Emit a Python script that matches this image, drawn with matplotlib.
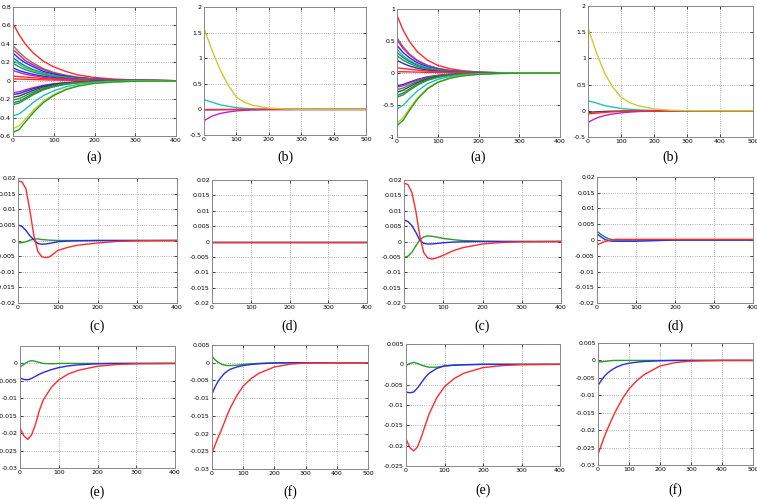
import numpy as np
import matplotlib.pyplot as plt
from matplotlib.ticker import FuncFormatter

plt.rcParams['axes.unicode_minus'] = False

# ---- colours (old matlab order) ----
R, G, B = '#ff2a2a', '#2a9a2a', '#2a2ae6'
C, M, Y, K = '#20c0c0', '#c020c0', '#c8cc30', '#404040'
OL, TL = '#9a7a30', '#208080'

# ---- panel (a), left: state errors ----
xa = [0, 15, 30, 50, 75, 100, 130, 160, 200, 250, 300, 400]
a1_curves = [
    (R, [0.62, 0.50, 0.40, 0.30, 0.21, 0.15, 0.10, 0.062, 0.035, 0.017, 0.009, 0]),
    (OL, [0.38, 0.31, 0.25, 0.19, 0.13, 0.09, 0.06, 0.038, 0.022, 0.011, 0.005, 0]),
    (M, [0.34, 0.28, 0.22, 0.17, 0.12, 0.08, 0.054, 0.034, 0.019, 0.01, 0.005, 0]),
    (B, [0.30, 0.24, 0.195, 0.15, 0.10, 0.072, 0.048, 0.03, 0.017, 0.008, 0.004, 0]),
    (TL, [0.25, 0.20, 0.16, 0.12, 0.085, 0.06, 0.04, 0.025, 0.014, 0.007, 0.003, 0]),
    (C, [0.22, 0.18, 0.14, 0.11, 0.075, 0.053, 0.035, 0.022, 0.013, 0.006, 0.003, 0]),
    (G, [0.19, 0.15, 0.12, 0.093, 0.065, 0.046, 0.03, 0.019, 0.011, 0.005, 0.003, 0]),
    (B, [0.14, 0.11, 0.09, 0.069, 0.048, 0.034, 0.022, 0.014, 0.008, 0.004, 0.002, 0]),
    (M, [0.11, 0.09, 0.07, 0.054, 0.037, 0.026, 0.018, 0.011, 0.006, 0.003, 0.002, 0]),
    (R, [0.05, 0.045, 0.04, 0.032, 0.024, 0.017, 0.011, 0.007, 0.004, 0.002, 0.001, 0]),
    (R, [0.02, 0.018, 0.016, 0.013, 0.01, 0.007, 0.005, 0.003, 0.002, 0.001, 0, 0]),
    (M, [-0.13, -0.12, -0.10, -0.075, -0.05, -0.033, -0.02, -0.012, -0.006, -0.003, -0.001, 0]),
    (B, [-0.15, -0.14, -0.117, -0.087, -0.057, -0.038, -0.023, -0.014, -0.007, -0.003, -0.002, 0]),
    (K, [-0.18, -0.167, -0.14, -0.104, -0.068, -0.045, -0.027, -0.016, -0.008, -0.004, -0.002, 0]),
    (G, [-0.21, -0.195, -0.164, -0.122, -0.08, -0.053, -0.032, -0.019, -0.009, -0.004, -0.002, 0]),
    (TL, [-0.24, -0.223, -0.187, -0.139, -0.091, -0.06, -0.036, -0.022, -0.011, -0.005, -0.002, 0]),
    (G, [-0.26, -0.242, -0.203, -0.151, -0.099, -0.065, -0.039, -0.023, -0.012, -0.005, -0.003, 0]),
    (C, [-0.38, -0.36, -0.31, -0.235, -0.16, -0.11, -0.066, -0.04, -0.02, -0.009, -0.004, 0]),
    (Y, [-0.52, -0.49, -0.42, -0.32, -0.22, -0.15, -0.09, -0.054, -0.027, -0.012, -0.005, 0]),
    (G, [-0.56, -0.53, -0.45, -0.345, -0.235, -0.16, -0.097, -0.058, -0.029, -0.013, -0.006, 0]),
]

# ---- panel (a), right ----
a2_curves = [
    (R, [0.90, 0.67, 0.50, 0.33, 0.20, 0.12, 0.067, 0.037, 0.016, 0.006, 0.002, 0]),
    (OL, [0.55, 0.41, 0.30, 0.20, 0.12, 0.074, 0.041, 0.023, 0.01, 0.004, 0.001, 0]),
    (M, [0.52, 0.385, 0.286, 0.19, 0.114, 0.07, 0.038, 0.021, 0.009, 0.004, 0.001, 0]),
    (B, [0.43, 0.32, 0.24, 0.16, 0.095, 0.058, 0.032, 0.018, 0.008, 0.003, 0.001, 0]),
    (C, [0.37, 0.27, 0.20, 0.137, 0.081, 0.05, 0.027, 0.015, 0.007, 0.003, 0.001, 0]),
    (TL, [0.32, 0.24, 0.18, 0.12, 0.07, 0.043, 0.024, 0.013, 0.006, 0.002, 0.001, 0]),
    (G, [0.27, 0.20, 0.15, 0.10, 0.06, 0.036, 0.02, 0.011, 0.005, 0.002, 0.001, 0]),
    (B, [0.20, 0.15, 0.11, 0.074, 0.044, 0.027, 0.015, 0.008, 0.004, 0.001, 0, 0]),
    (R, [0.08, 0.07, 0.06, 0.045, 0.03, 0.019, 0.011, 0.006, 0.003, 0.001, 0, 0]),
    (R, [0.02, 0.019, 0.017, 0.014, 0.01, 0.007, 0.004, 0.002, 0.001, 0, 0, 0]),
    (B, [-0.20, -0.18, -0.144, -0.10, -0.06, -0.036, -0.02, -0.011, -0.005, -0.002, -0.001, 0]),
    (M, [-0.22, -0.198, -0.158, -0.11, -0.066, -0.04, -0.022, -0.012, -0.006, -0.002, -0.001, 0]),
    (G, [-0.26, -0.234, -0.187, -0.13, -0.078, -0.047, -0.026, -0.014, -0.007, -0.003, -0.001, 0]),
    (K, [-0.30, -0.27, -0.216, -0.15, -0.09, -0.054, -0.03, -0.017, -0.008, -0.003, -0.001, 0]),
    (TL, [-0.35, -0.315, -0.252, -0.175, -0.105, -0.063, -0.035, -0.019, -0.009, -0.004, -0.001, 0]),
    (G, [-0.38, -0.342, -0.274, -0.19, -0.114, -0.068, -0.038, -0.021, -0.01, -0.004, -0.002, 0]),
    (C, [-0.56, -0.504, -0.403, -0.28, -0.168, -0.10, -0.056, -0.031, -0.014, -0.006, -0.002, 0]),
    (Y, [-0.78, -0.70, -0.56, -0.39, -0.234, -0.14, -0.078, -0.043, -0.02, -0.008, -0.003, 0]),
    (G, [-0.82, -0.74, -0.59, -0.41, -0.246, -0.148, -0.082, -0.045, -0.021, -0.008, -0.003, 0]),
]

# ---- panel (b) ----
xb = [0, 25, 50, 75, 100, 125, 150, 200, 250, 300, 400, 500]
b1_curves = [
    (B, [-0.01, -0.008, -0.005, -0.003, -0.002, -0.001, 0, 0, 0, 0, 0, 0]),
    (C, [0.19, 0.14, 0.09, 0.06, 0.035, 0.02, 0.012, 0.004, 0.001, 0, 0, 0]),
    (M, [-0.22, -0.13, -0.08, -0.05, -0.03, -0.018, -0.01, -0.003, -0.001, 0, 0, 0]),
    (R, [0, 0, 0, 0, 0, 0, 0, 0, 0, 0, 0, 0]),
    (Y, [1.58, 1.15, 0.77, 0.47, 0.24, 0.14, 0.08, 0.025, 0.008, 0.002, 0, 0]),
]
b2_curves = [
    (K, [-0.03, -0.02, -0.012, -0.007, -0.004, -0.002, -0.001, 0, 0, 0, 0, 0]),
    (C, [0.19, 0.15, 0.10, 0.07, 0.045, 0.03, 0.018, 0.006, 0.002, 0, 0, 0]),
    (M, [-0.22, -0.14, -0.09, -0.06, -0.04, -0.025, -0.015, -0.005, -0.002, 0, 0, 0]),
    (R, [-0.06, -0.045, -0.03, -0.02, -0.012, -0.007, -0.004, -0.001, 0, 0, 0, 0]),
    (Y, [1.58, 1.12, 0.72, 0.45, 0.26, 0.16, 0.10, 0.035, 0.01, 0.003, 0, 0]),
]

# ---- panel (c) / (d) ----
xc = [0, 10, 20, 30, 40, 50, 60, 70, 80, 100, 125, 150, 200, 250, 300, 400]
c1_curves = [
    (G, [-0.0008, -0.0007, -0.0004, 0.0001, 0.0005, 0.0005, 0.0003, 0.0002, 0.0001, 0, 0, 0, 0, 0, 0, 0]),
    (B, [0.005, 0.0045, 0.0032, 0.0015, 0.0002, -0.001, -0.0012, -0.0011, -0.0009, -0.0004, -0.0002, -0.0001, 0, 0, 0, 0]),
    (R, [0.019, 0.0188, 0.0165, 0.0095, 0.0015, -0.0035, -0.0052, -0.0055, -0.0052, -0.0032, -0.0022, -0.0015, -0.0008, -0.0003, -0.0001, 0]),
]
d1_curves = [
    (G, [0] * 16),
    (B, [0] * 16),
    (R, [0] * 16),
]
c2_curves = [
    (G, [-0.0052, -0.0048, -0.0035, -0.0015, 0.0005, 0.0015, 0.0018, 0.0017, 0.0015, 0.001, 0.0006, 0.0003, 0.0001, 0, 0, 0]),
    (B, [0.007, 0.0065, 0.0052, 0.003, 0.0005, -0.0006, -0.0008, -0.0008, -0.0007, -0.0004, -0.0002, -0.0001, 0, 0, 0, 0]),
    (R, [0.019, 0.0185, 0.016, 0.010, 0.002, -0.0035, -0.0053, -0.0057, -0.0055, -0.0045, -0.003, -0.002, -0.0008, -0.0003, -0.0001, 0]),
]
d2_curves = [
    (TL, [0.0028, 0.0018, 0.001, 0.0004, 0.0001, 0, 0, 0, 0, 0, 0, 0, 0, 0, 0, 0]),
    (B, [0.002, 0.001, 0.0002, -0.0002, -0.0004, -0.0004, -0.0004, -0.0004, -0.0004, -0.0004, -0.0003, -0.0002, 0, 0, 0, 0]),
    (R, [-0.0015, -0.001, -0.0005, -0.0002, 0.0001, 0.0002, 0.0002, 0.0002, 0.0002, 0.0002, 0.0002, 0.0002, 0.0002, 0.0002, 0.0002, 0.0002]),
]

# ---- panel (e) / (f) ----
xe = [0, 10, 20, 30, 40, 50, 60, 80, 100, 125, 150, 200, 250, 300, 400]
e1_curves = [
    (G, [-0.001, -0.0003, 0.0005, 0.0008, 0.0006, 0.0003, 0, -0.0001, 0, 0, 0, 0, 0, 0, 0]),
    (B, [-0.0042, -0.0046, -0.0047, -0.0043, -0.0037, -0.0031, -0.0026, -0.0018, -0.0012, -0.0007, -0.0004, -0.0001, 0, 0, 0]),
    (R, [-0.0185, -0.0208, -0.0218, -0.0205, -0.0175, -0.0135, -0.0105, -0.007, -0.0047, -0.003, -0.002, -0.0008, -0.0003, -0.0001, 0]),
]
e2_curves = [
    (G, [-0.0003, 0.0002, 0.0005, 0.0002, -0.0002, -0.0005, -0.0007, -0.0007, -0.0004, -0.0002, -0.0001, 0, 0, 0, 0]),
    (B, [-0.0068, -0.007, -0.0068, -0.0058, -0.0045, -0.0032, -0.0022, -0.001, -0.0004, -0.0002, -0.0001, 0, 0, 0, 0]),
    (R, [-0.0183, -0.0205, -0.0213, -0.0203, -0.0178, -0.015, -0.0122, -0.0082, -0.0055, -0.0035, -0.0022, -0.0008, -0.0003, -0.0001, 0]),
]
xf = [0, 10, 20, 30, 40, 50, 60, 80, 100, 125, 150, 200, 250, 300, 400, 500]
f1_curves = [
    (G, [0.0018, 0.0008, 0.0001, -0.0004, -0.0007, -0.0008, -0.0008, -0.0007, -0.0005, -0.0003, -0.0002, 0, 0, 0, 0, 0]),
    (B, [-0.0088, -0.0068, -0.0052, -0.004, -0.003, -0.0023, -0.0018, -0.0012, -0.0008, -0.0005, -0.0003, -0.0001, 0, 0, 0, 0]),
    (R, [-0.0255, -0.0232, -0.021, -0.019, -0.0168, -0.0145, -0.0125, -0.0092, -0.0066, -0.0045, -0.003, -0.0012, -0.0004, -0.0001, 0, 0]),
]
f2_curves = [
    (G, [-0.0004, -0.0004, -0.0003, -0.0002, -0.0001, 0, 0, 0, 0, 0, 0, 0, 0, 0, 0, 0]),
    (B, [-0.0072, -0.0058, -0.0046, -0.0037, -0.003, -0.0024, -0.0019, -0.0012, -0.0008, -0.0005, -0.0003, -0.0001, 0, 0, 0, 0]),
    (R, [-0.027, -0.0245, -0.022, -0.0198, -0.0178, -0.0158, -0.014, -0.0108, -0.0082, -0.0058, -0.004, -0.0016, -0.0006, -0.0002, 0, 0]),
]

W, H = 757, 499
fig = plt.figure(figsize=(W / 100, H / 100), dpi=100)


def fmt(v, pos):
    s = f'{v:.4f}'.rstrip('0').rstrip('.')
    return '0' if s in ('-0', '0') else s


def panel(box, x, curves, xmax, ylim, yticks, label, cap_y):
    l, t, r, b = box
    ax = fig.add_axes([l / W, 1 - b / H, (r - l) / W, (b - t) / H])
    for col, ys in curves:
        ax.plot(x, ys, color=col, lw=1.0)
    ax.set_xlim(0, xmax)
    ax.set_ylim(*ylim)
    ax.set_xticks(np.arange(0, xmax + 1, 100))
    ax.set_yticks(yticks)
    ax.xaxis.set_major_formatter(FuncFormatter(fmt))
    ax.yaxis.set_major_formatter(FuncFormatter(fmt))
    ax.grid(True, linestyle=':', color='#999999', lw=0.6)
    ax.tick_params(labelsize=4.5, direction='in', length=2, width=0.5,
                   top=True, right=True, pad=1.5)
    for sp in ax.spines.values():
        sp.set_color('#888888')
        sp.set_linewidth(0.7)
    fig.text((l + r) / 2 / W, 1 - cap_y / H, label, ha='center', va='center',
             family='Liberation Serif', fontsize=10)
    return ax


t1 = np.arange(-0.6, 0.81, 0.2)
t2 = np.arange(-0.5, 2.01, 0.5)
t3 = np.arange(-1, 1.01, 0.5)
tc = np.arange(-0.02, 0.0201, 0.005)

panel((13, 7, 176, 136), xa, a1_curves, 400, (-0.6, 0.8), t1, '(a)', 157)
panel((204, 7, 366, 135), xb, b1_curves, 500, (-0.5, 2), t2, '(b)', 157)
panel((397, 9, 560, 137), xa, a2_curves, 400, (-1, 1), t3, '(a)', 157)
panel((588, 6, 753, 137), xb, b2_curves, 500, (-0.5, 2), t2, '(b)', 157)

panel((18, 178, 177, 303), xc, c1_curves, 400, (-0.02, 0.02), tc, '(c)', 326)
panel((212, 180, 367, 303), xc, d1_curves, 400, (-0.02, 0.02), tc, '(d)', 326)
panel((404, 180, 561, 303), xc, c2_curves, 400, (-0.02, 0.02), tc, '(c)', 326)
panel((597, 177, 753, 303), xc, d2_curves, 400, (-0.02, 0.02), tc, '(d)', 326)

panel((20, 346, 175, 468), xe, e1_curves, 400, (-0.03, 0.005),
      np.arange(-0.03, 0.0001, 0.005), '(e)', 492)
panel((212, 345, 368, 469), xf, f1_curves, 500, (-0.03, 0.005),
      np.arange(-0.03, 0.0051, 0.005), '(f)', 492)
panel((406, 344, 560, 466), xe, e2_curves, 400, (-0.025, 0.005),
      np.arange(-0.025, 0.0051, 0.005), '(e)', 490)
panel((598, 343, 753, 465), xf, f2_curves, 500, (-0.03, 0.005),
      np.arange(-0.03, 0.0051, 0.005), '(f)', 490)

fig.savefig('out.png', dpi=100)
